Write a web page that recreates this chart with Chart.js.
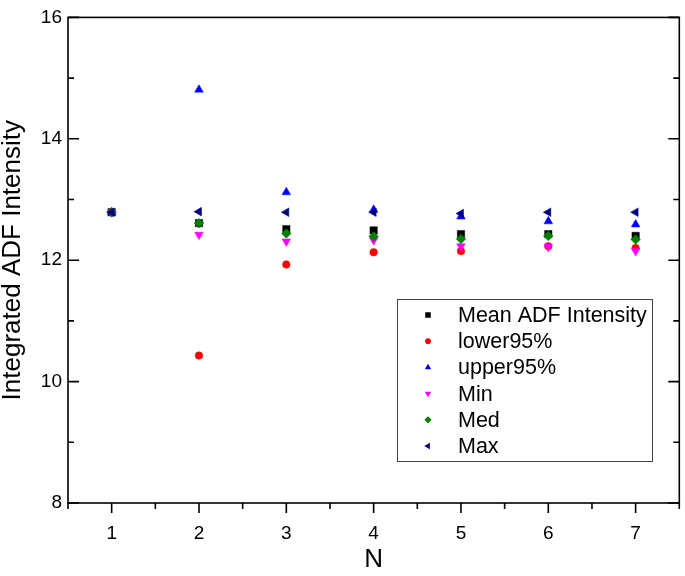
<!DOCTYPE html>
<html>
<head>
<meta charset="utf-8">
<script src="https://cdn.jsdelivr.net/npm/chart.js@4.4.1/dist/chart.umd.min.js"></script>
<style>
    html, body { margin: 0; padding: 0; background: #fff; }
    #wrap { width: 685px; height: 576px; }
</style>
</head>
<body>
<div id="wrap"><canvas id="adfChart" width="685" height="576"></canvas></div>
<script>
// Values
const nValues    = [1, 2, 3, 4, 5, 6, 7];
const meanValues = [12.79, 12.61, 12.51, 12.49, 12.43, 12.43, 12.40];
const lower95    = [12.79, 10.43, 11.93, 12.13, 12.15, 12.23, 12.20];
const upper95    = [12.79, 14.81, 13.12, 12.83, 12.72, 12.64, 12.59];
const minValues  = [12.79, 12.42, 12.31, 12.33, 12.23, 12.22, 12.15];
const medValues  = [12.79, 12.61, 12.44, 12.39, 12.35, 12.40, 12.34];
const maxValues  = [12.79, 12.80, 12.79, 12.79, 12.77, 12.79, 12.79];
const xTicks = [1, 2, 3, 4, 5, 6, 7];
const yTicks = [8, 10, 12, 14, 16];

const FONT = "'Liberation Sans', Arial, sans-serif";

function toPoints(values){
    return nValues.map((n, i) => ({x: n, y: values[i]}));
}

function series(label, values, color, style, rotation, radius, order){
    return {
        label: label,
        data: toPoints(values),
        backgroundColor: color,
        borderColor: color,
        pointStyle: style,
        rotation: rotation,
        pointRadius: radius,
        pointHoverRadius: radius,
        pointBorderWidth: 0.5,
        showLine: false,
        order: order
    };
}

// Frame with Origin-style ticks: left/right ticks point in, bottom ticks point out
const frameAndTicks = {
    id: "frameAndTicks",
    afterDraw(chart){
        const {ctx, chartArea: a, scales: {x, y}} = chart;
        ctx.save();
        ctx.strokeStyle = "#000";
        ctx.lineWidth = 1.6;
        ctx.strokeRect(a.left, a.top, a.right - a.left, a.bottom - a.top);

        ctx.beginPath();
        yTicks.forEach((v, i) => {
            const py = y.getPixelForValue(v);
            ctx.moveTo(a.left, py); ctx.lineTo(a.left + 11, py);
            ctx.moveTo(a.right, py); ctx.lineTo(a.right - 11, py);
            if(i < yTicks.length - 1){
                const my = y.getPixelForValue((v + yTicks[i + 1]) / 2);
                ctx.moveTo(a.left, my); ctx.lineTo(a.left + 6, my);
                ctx.moveTo(a.right, my); ctx.lineTo(a.right - 6, my);
            }
        });
        xTicks.forEach(v => {
            const px = x.getPixelForValue(v);
            ctx.moveTo(px, a.bottom); ctx.lineTo(px, a.bottom + 10);
            const mx = x.getPixelForValue(v - 0.5);
            ctx.moveTo(mx, a.bottom); ctx.lineTo(mx, a.bottom + 6);
        });
        const last = x.getPixelForValue(xTicks[xTicks.length - 1] + 0.5);
        ctx.moveTo(last, a.bottom); ctx.lineTo(last, a.bottom + 6);
        ctx.stroke();
        ctx.restore();
    }
};

// Boxed legend inside the plot, lower right
const boxLegend = {
    id: "boxLegend",
    afterDraw(chart){
        const ctx = chart.ctx;
        const left = 397, top = 299, width = 255, height = 162;
        ctx.save();
        ctx.strokeStyle = "#444";
        ctx.lineWidth = 1;
        ctx.strokeRect(left + 0.5, top + 0.5, width, height);

        ctx.font = "21.5px " + FONT;
        ctx.textBaseline = "middle";
        ctx.textAlign = "left";
        chart.data.datasets.forEach((ds, i) => {
            const cy = top + 16 + i * 26.2;
            ctx.fillStyle = ds.backgroundColor;
            ctx.strokeStyle = ds.borderColor;
            Chart.helpers.drawPoint(ctx, {
                pointStyle: ds.pointStyle,
                rotation: ds.rotation,
                radius: ds.pointRadius * 0.75,
                borderWidth: 0
            }, left + 31, cy);
            ctx.fillStyle = "#000";
            ctx.fillText(ds.label, left + 61, cy + 1);
        });
        ctx.restore();
    }
};

const ctx = document.getElementById("adfChart").getContext("2d");

new Chart(ctx, {
    type: "scatter",
    data: {
        datasets: [
            series("Mean ADF Intensity", meanValues, "#000000", "rect", 0, 5.2, 5),
            series("lower95%", lower95, "#ff0000", "circle", 0, 3.8, 4),
            series("upper95%", upper95, "#0000ff", "triangle", 0, 5, 3),
            series("Min", minValues, "#ff00ff", "triangle", 180, 5, 2),
            series("Med", medValues, "#008000", "rectRot", 0, 4.8, 1),
            series("Max", maxValues, "#000080", "triangle", 270, 5, 0)
        ]
    },
    options: {
        responsive: false,
        animation: false,
        layout: {padding: {top: 12, right: 3, left: 0, bottom: 0}},
        plugins: {
            legend: {display: false},
            tooltip: {enabled: false}
        },
        scales: {
            x: {
                type: "linear",
                min: 0.5,
                max: 7.5,
                afterBuildTicks: scale => {
                    scale.ticks = xTicks.map(v => ({value: v}));
                },
                afterFit: scale => { scale.height = 73; },
                grid: {display: false, drawTicks: false},
                border: {display: false},
                ticks: {
                    color: "#000",
                    padding: 19,
                    maxRotation: 0,
                    font: {family: FONT, size: 19}
                },
                title: {
                    display: true,
                    text: "N",
                    color: "#000",
                    padding: {top: 0, bottom: 3},
                    font: {family: FONT, size: 26, lineHeight: 1}
                }
            },
            y: {
                type: "linear",
                min: 8,
                max: 16,
                afterBuildTicks: scale => {
                    scale.ticks = yTicks.map(v => ({value: v}));
                },
                afterFit: scale => { scale.width = 68; },
                grid: {display: false, drawTicks: false},
                border: {display: false},
                ticks: {
                    color: "#000",
                    padding: 6,
                    font: {family: FONT, size: 19}
                },
                title: {
                    display: true,
                    text: "Integrated ADF Intensity",
                    color: "#000",
                    padding: {top: 0, bottom: 0},
                    font: {family: FONT, size: 26, lineHeight: 1}
                }
            }
        }
    },
    plugins: [frameAndTicks, boxLegend]
});
</script>
</body>
</html>
